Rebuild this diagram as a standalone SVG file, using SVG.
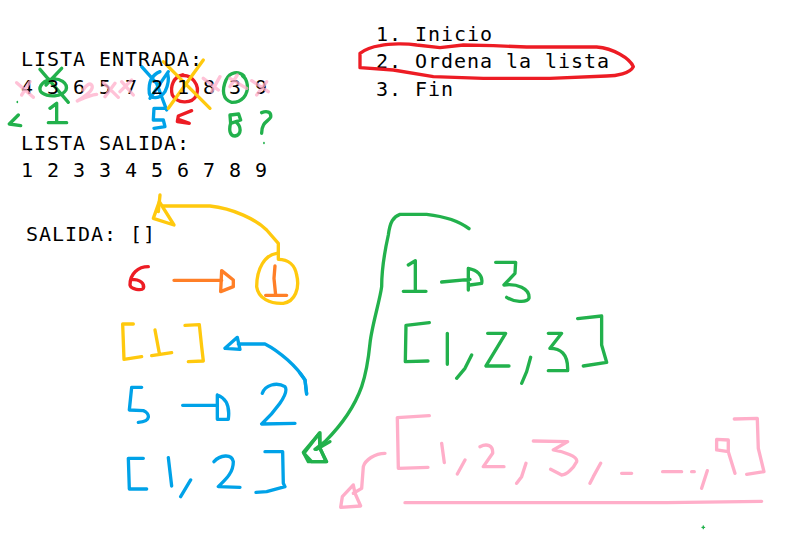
<svg xmlns="http://www.w3.org/2000/svg" width="793" height="544" viewBox="0 0 793 544">
<style>
text{font-family:"DejaVu Sans Mono","Liberation Mono",monospace;font-size:20px;letter-spacing:.96px;fill:#000;white-space:pre}
path{fill:none;stroke-width:10;stroke-linecap:round;stroke-linejoin:round}
.g{stroke:#22b14c}.p{stroke:#ffaec9}.b{stroke:#00a2e8}.r{stroke:#ed1c24}.y{stroke:#ffc90e}.o{stroke:#ff7f27}
</style>
<rect width="793" height="544" fill="#fff"/>
<g transform="translate(0,40) scale(.3333)">
<path class="g" d="M120,88 L205,187 M185,85 L138,135 M150,118 C125,125 112,145 125,158 C145,172 185,172 198,150 C205,130 180,112 150,118"/>
<path class="g" d="M732,108 C715,92 690,95 678,120 C665,150 668,180 695,187 C725,188 745,165 742,135 C740,120 735,112 728,108"/>
<path class="g" d="M55,225 L28,252 L62,257 M150,205 L170,190 L170,245 M145,248 L200,248 M692,225 L716,222 L722,240 L692,250 L690,225 M692,250 C686,270 690,288 705,288 C725,285 725,260 708,246 M785,218 C800,212 815,215 812,232 C805,245 785,245 785,280"/>
<path class="g" style="stroke-width:5" d="M52,185 L52,187 M792,308 L792,310"/>
<path class="b" d="M425,80 L470,130 L500,210 M505,95 L450,175 M480,95 C455,105 445,130 448,160 C452,178 480,178 495,155 C505,135 507,115 503,100 M495,205 L462,205 L460,240 L490,240 L495,260 L462,265"/>
<path class="r" d="M548,105 C520,110 510,140 517,165 C530,190 575,195 590,165 C600,135 575,102 545,107 M575,212 L535,228 L532,245 L568,250 L535,238"/>
<path class="y" d="M490,65 L630,205 M610,60 L505,205"/>
</g>
<g id="texts">
<text x="21" y="66">LISTA ENTRADA:</text>
<text x="21" y="94">4 3 6 5 7 2 1 8 3 9</text>
<text x="21" y="150">LISTA SALIDA:</text>
<text x="21" y="177">1 2 3 3 4 5 6 7 8 9</text>
<text x="26" y="241">SALIDA: []</text>
<text x="376" y="41">1. Inicio</text>
<text x="376" y="68">2. Ordena la lista</text>
<text x="376" y="96">3. Fin</text>
</g>
<g transform="translate(0,40) scale(.3333)">
<path class="p" d="M50,128 L100,172 M90,125 L65,165 M250,150 C258,135 270,128 275,135 C285,150 250,172 232,183 C250,175 270,165 290,163 M310,128 L355,172 M345,130 L315,170 M365,125 L400,165 M395,120 L360,155 M610,115 L655,150 M660,110 L635,155 M690,115 L740,145 M712,105 L690,140 M755,122 L805,155 M800,125 L770,165" opacity=".75"/>
</g>
<g transform="translate(100,190) scale(.3333)">
<path class="y" d="M180,15 L175,65 M190,48 L330,48 C400,55 470,90 500,120 L535,160 L535,205"/>
<path class="y" d="M178,35 L160,85 L222,105 Z"/>
<path class="y" d="M530,190 C495,195 470,235 470,290 C475,325 510,342 550,340 C585,335 600,295 590,255 C585,225 565,208 535,208"/>
<path class="o" d="M525,228 L522,265 L527,315 M497,316 L560,316 M222,271 L365,271"/>
<path class="o" d="M365,242 L362,305 L400,290 L400,270 Z"/>
<path class="r" d="M145,230 C115,230 90,250 90,285 C92,298 125,303 130,295 C135,280 120,268 95,268"/>
<path class="y" d="M100,402 L68,402 L72,508 L125,500 M255,406 L298,404 L305,470 L310,513 L265,515 M165,420 L178,490 M155,497 L215,488"/>
<path class="b" d="M620,612 L615,570 C590,530 540,485 495,462 L415,462 M412,442 L375,475 L420,478 Z"/>
<path class="b" d="M125,592 L95,592 L88,660 L130,662 C150,670 155,695 115,697 M248,646 L350,646 M352,615 L352,688 L385,688 C390,650 380,625 352,615 M487,610 C495,585 530,575 555,590 C570,610 520,670 485,702 L585,700"/>
<path class="b" d="M130,805 L85,805 L88,897 L140,897 M205,803 L215,888 M272,870 L242,920 M342,815 C360,795 395,790 400,815 C400,850 375,870 355,890 L420,892 M495,785 L548,785 L550,880 L555,890 L500,905 L468,907"/>
<path class="g" d="M658,730 L612,790 L635,815 L680,815 L660,775 L658,730 M650,778 L690,755"/>
</g>
<g transform="translate(300,200) scale(.3333)">
<path class="g" d="M507,86 C480,65 440,50 380,43 L300,43 C280,50 270,65 265,105 C255,150 245,220 245,260 C240,300 215,380 210,430 C205,480 195,530 185,560 C160,630 110,690 75,725 L45,748"/>
<path class="g" d="M60,698 L10,757 L25,785 L78,785 L60,745 Z"/>
<path class="g" d="M325,195 L346,182 L346,270 M310,274 L378,274 M425,246 L510,238 M505,205 L505,270 M505,205 C530,210 550,225 545,250 L510,255 M587,187 L647,187 L645,220 L612,255 C650,250 690,265 687,295 C680,310 640,305 620,292"/>
<path class="g" d="M388,368 L318,376 L316,485 L384,483 M442,400 L442,493 M515,465 L495,505 L470,535 M563,400 L617,400 L558,498 L627,498 M692,472 L680,515 L665,550 M745,400 L785,400 L750,445 C780,445 805,460 803,512 L745,512 M833,356 L905,348 L905,435 L920,487 L850,498"/>
<path class="g" style="stroke-width:4" d="M1206,982 L1214,982 M1210,978 L1210,986"/>
<path class="p" d="M388,647 L292,653 L295,805 L384,802 M1303,657 L1372,655 L1375,745 L1392,815 L1340,823 M425,730 L433,788 M495,780 L472,822 M540,740 C560,730 580,735 578,760 L550,800 L612,800 M678,790 L665,830 L650,850 M700,723 L803,725 L760,750 C790,755 835,770 830,785 C820,805 800,825 785,825 L752,808 M902,790 L880,830 L870,850 M965,820 L995,820 M1088,815 L1145,815 M1175,815 L1183,815 M1222,812 L1205,865 M1250,718 L1250,750 L1285,755 L1285,720 Z M1285,755 L1305,820"/>
<path class="p" d="M255,760 C225,760 195,780 190,800 L185,865 L160,880"/>
<path class="p" d="M160,855 L127,890 L122,922 L182,918 L165,880 Z"/>
<path class="p" d="M315,908 L1100,908 L1385,904"/>
<path class="b" d="M0,520 L15,540 L20,582"/>
</g>
<g transform="translate(350,15) scale(.3333)">
<path class="r" d="M30,115 C50,100 70,95 90,92 C120,85 170,85 200,90 L270,98 L340,90 L430,92 L530,96 L740,96 C790,100 840,130 850,155 C840,175 800,183 770,183 L600,190 L400,190 L250,185 L130,165 L30,158 Z"/>
</g>
</svg>
